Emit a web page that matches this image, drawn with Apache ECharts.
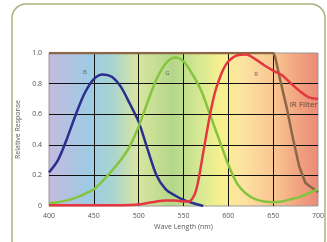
<!DOCTYPE html>
<html>
<head>
    <meta charset="utf-8">
    <title>Spectral Response</title>
    <script src="https://cdn.jsdelivr.net/npm/echarts@6/dist/echarts.min.js"></script>
    <style>
        html, body { margin: 0; padding: 0; background: #fff; }
    </style>
</head>
<body>
    <div id="main" style="width: 327px;height:242px;"></div>
    <script type="text/javascript">
        // wavelength ticks (nm)
        var xTicks = [400, 450, 500, 550, 600, 650, 700];

        // blue channel
        var blueWave = [400, 410, 420, 430, 440, 450, 460, 470, 480, 490, 500, 510, 520, 530, 540, 550, 560, 572];
        var blueResp = [0.22, 0.30, 0.44, 0.60, 0.74, 0.83, 0.86, 0.845, 0.78, 0.67, 0.55, 0.37, 0.20, 0.11, 0.07, 0.04, 0.02, 0.0];

        // green channel
        var greenWave = [400, 410, 420, 430, 440, 450, 460, 470, 480, 490, 500, 510, 520, 530, 540, 550, 560, 570, 580, 590,
                         600, 610, 620, 630, 640, 650, 660, 670, 680, 690, 700];
        var greenResp = [0.02, 0.025, 0.037, 0.055, 0.08, 0.11, 0.165, 0.23, 0.30, 0.39, 0.52, 0.68, 0.83, 0.93, 0.97, 0.945, 0.86, 0.75, 0.59, 0.43,
                         0.27, 0.145, 0.08, 0.045, 0.03, 0.025, 0.03, 0.045, 0.06, 0.085, 0.11];

        // red channel
        var redWave = [400, 480, 500, 510, 520, 530, 540, 550, 556, 562, 566, 570, 575, 580, 585, 590, 595, 600, 610, 620,
                       630, 640, 650, 660, 670, 680, 690, 700];
        var redResp = [0.005, 0.005, 0.01, 0.02, 0.03, 0.036, 0.036, 0.03, 0.03, 0.07, 0.15, 0.28, 0.45, 0.61, 0.74, 0.83, 0.90, 0.945, 0.985, 0.99,
                       0.96, 0.92, 0.885, 0.855, 0.80, 0.75, 0.71, 0.70];

        // IR cut filter
        var irWave = [400, 650, 652, 658, 666, 671, 679, 686, 700];
        var irResp = [1.0, 1.0, 0.98, 0.82, 0.62, 0.47, 0.26, 0.15, 0.09];

        // curve labels
        var labelNames = ['B', 'G', 'R', 'IR Filter'];
        var labelPos = [[440, 0.875], [532, 0.868], [631, 0.86], [684, 0.665]];

        function pairs(xs, ys) {
            return xs.map(function (x, i) { return [x, ys[i]]; });
        }

        var textColor = '#555';
        var font = 'Open Sans';

        var chartDom = document.getElementById('main');
        var myChart = echarts.init(chartDom, null, {renderer: 'canvas'});

        var spectrum = new echarts.graphic.LinearGradient(0, 0, 1, 0, [
            {offset: 0, color: '#c5badf'},
            {offset: 0.15, color: '#9dcbe4'},
            {offset: 0.24, color: '#a9d4cf'},
            {offset: 0.33, color: '#d9e69f'},
            {offset: 0.46, color: '#b3d78a'},
            {offset: 0.56, color: '#d6e993'},
            {offset: 0.64, color: '#f8f08e'},
            {offset: 0.73, color: '#fde0a2'},
            {offset: 0.84, color: '#f8c490'},
            {offset: 0.93, color: '#f1a17f'},
            {offset: 1, color: '#ea8a78'}
        ]);

        function labelMark(i) {
            return {
                symbol: 'circle',
                symbolSize: 0,
                silent: true,
                animation: false,
                label: {
                    show: true,
                    position: 'inside',
                    formatter: labelNames[i],
                    color: i === 3 ? '#5e4a38' : '#666',
                    fontFamily: font,
                    fontSize: i === 3 ? 8 : 6
                },
                data: [{coord: labelPos[i], value: labelNames[i]}]
            };
        }

        function curve(name, data, color, smooth, idx) {
            return {
                name: name,
                type: 'line',
                data: data,
                smooth: smooth,
                symbol: 'none',
                animation: false,
                lineStyle: {color: color, width: 2.5},
                markPoint: labelMark(idx)
            };
        }

        var option = {
            backgroundColor: '#fff',
            animation: false,
            grid: {
                left: 49,
                right: 8,
                top: 53,
                bottom: 36,
                show: true,
                backgroundColor: spectrum,
                borderColor: '#999',
                borderWidth: 1
            },
            graphic: [{
                type: 'rect',
                shape: {x: 12, y: 4, width: 313, height: 250, r: 14},
                style: {fill: 'none', stroke: '#a9b27c', lineWidth: 1.5},
                silent: true,
                z: 0
            }],
            xAxis: {
                type: 'value',
                min: xTicks[0],
                max: xTicks[xTicks.length - 1],
                interval: 50,
                name: 'Wave Length (nm)',
                nameLocation: 'middle',
                nameGap: 17,
                nameTextStyle: {color: textColor, fontFamily: font, fontSize: 7},
                axisLine: {show: false},
                axisTick: {show: false},
                axisLabel: {color: textColor, fontFamily: font, fontSize: 7, margin: 6},
                splitLine: {show: true, showMinLine: false, showMaxLine: false, lineStyle: {color: '#111', width: 1}}
            },
            yAxis: {
                type: 'value',
                min: 0,
                max: 1,
                interval: 0.2,
                name: 'Relative Response',
                nameLocation: 'middle',
                nameGap: 25,
                nameTextStyle: {color: textColor, fontFamily: font, fontSize: 7},
                axisLine: {show: false},
                axisTick: {show: false},
                axisLabel: {
                    color: textColor, fontFamily: font, fontSize: 7, margin: 7,
                    formatter: function (v) { return v === 0 ? '0' : v.toFixed(1); }
                },
                splitLine: {show: true, showMinLine: false, showMaxLine: false, lineStyle: {color: '#111', width: 1}}
            },
            series: [
                curve('IR Filter', pairs(irWave, irResp), '#8b6747', false, 3),
                curve('B', pairs(blueWave, blueResp), '#2a2f8f', 0.3, 0),
                curve('G', pairs(greenWave, greenResp), '#86c440', 0.3, 1),
                curve('R', pairs(redWave, redResp), '#e5373f', 0.3, 2)
            ]
        };
        myChart.setOption(option);
    </script>
</body>
</html>
